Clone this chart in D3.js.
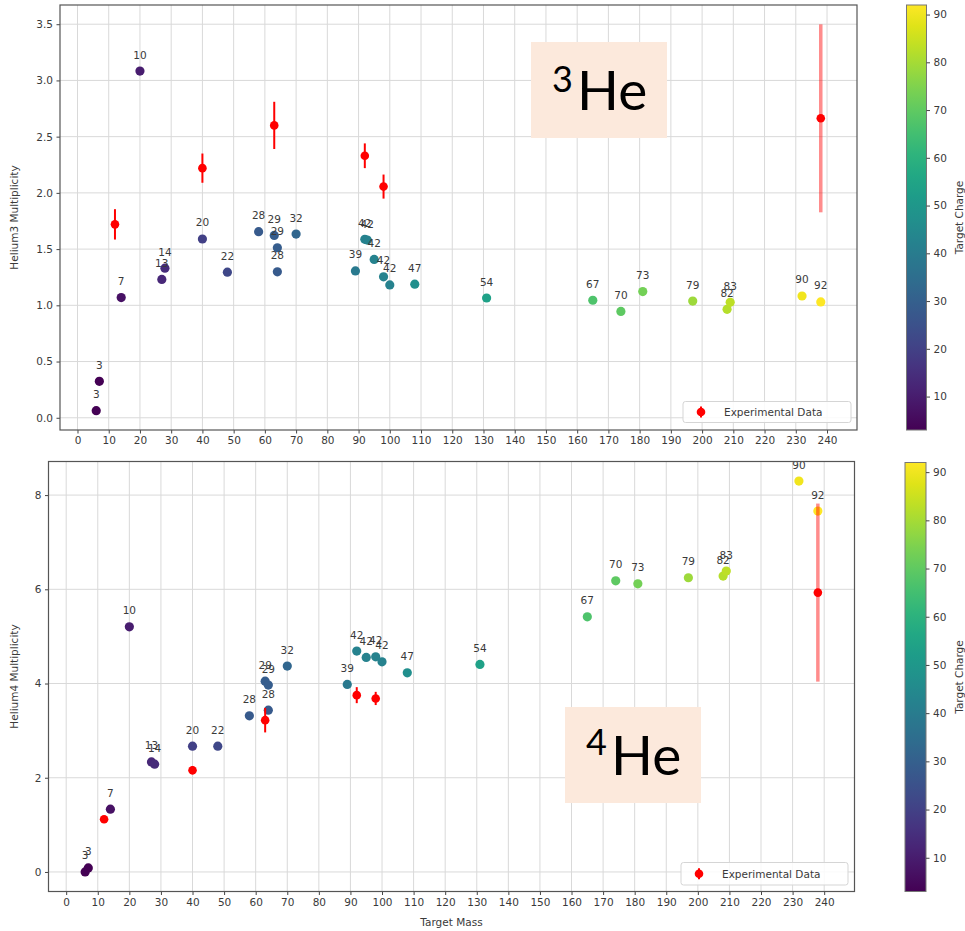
<!DOCTYPE html>
<html>
<head>
<meta charset="utf-8">
<script src="https://cdn.jsdelivr.net/npm/d3@7"></script>
<style>
  html, body { margin: 0; padding: 0; background: #fff; }
  svg { display: block; }
  text { font-family: "DejaVu Sans", sans-serif; }
</style>
</head>
<body>
<svg id="chart" width="965" height="931"></svg>
<script>
// ---- Helium-3 multiplicity by target ----
const mass3   = [6, 7, 14, 20, 27, 28, 40, 48, 58, 63, 64, 64, 70, 89, 92, 92.8, 95, 98, 100, 108, 131, 165, 174, 181, 197, 208, 209, 232, 238];
const charge3 = [3, 3, 7, 10, 13, 14, 20, 22, 28, 29, 29, 28, 32, 39, 42, 42, 42, 42, 42, 47, 54, 67, 70, 73, 79, 82, 83, 90, 92];
const mult3   = [0.063, 0.324, 1.069, 3.083, 1.23, 1.33, 1.59, 1.295, 1.655, 1.622, 1.512, 1.298, 1.634, 1.306, 1.587, 1.58, 1.408, 1.253, 1.181, 1.188, 1.065, 1.045, 0.946, 1.122, 1.038, 0.964, 1.027, 1.083, 1.03];

const expMass3 = [12, 40, 63, 92, 98, 238];
const expMult3 = [1.72, 2.22, 2.60, 2.33, 2.056, 2.663];
const expErr3  = [0.135, 0.13, 0.21, 0.11, 0.107, 0.836];

// ---- Helium-4 multiplicity by target ----
const mass4   = [6, 7, 14, 20, 27, 28, 40, 48, 58, 63, 64, 64, 70, 89, 92, 95, 98, 100, 108, 131, 165, 174, 181, 197, 208, 209, 232, 238];
const charge4 = [3, 3, 7, 10, 13, 14, 20, 22, 28, 29, 29, 28, 32, 39, 42, 42, 42, 42, 47, 54, 67, 70, 73, 79, 82, 83, 90, 92];
const mult4   = [0.0, 0.085, 1.332, 5.204, 2.336, 2.288, 2.67, 2.67, 3.314, 4.05, 3.966, 3.434, 4.37, 3.98, 4.688, 4.554, 4.567, 4.46, 4.227, 4.405, 5.416, 6.18, 6.117, 6.245, 6.28, 6.387, 8.298, 7.66];

const expMass4 = [12, 40, 63, 92, 98, 238];
const expMult4 = [1.119, 2.16, 3.222, 3.753, 3.683, 5.93];
const expErr4  = [0.04, 0.09, 0.26, 0.17, 0.14, 1.89];

// ---- Axis ticks ----
const massTicks   = d3.range(0, 241, 10);
const yTicks3     = [0, 0.5, 1.0, 1.5, 2.0, 2.5, 3.0, 3.5];
const yTicks4     = [0, 2, 4, 6, 8];
const chargeTicks = [10, 20, 30, 40, 50, 60, 70, 80, 90];
const chargeRange = [3, 92];

const svg = d3.select("#chart");
const color = d3.scaleSequential(d3.interpolateViridis).domain(chargeRange);
const TXT = "#3a3a3a";
const FS = 10.5;

// matplotlib-style autoscale: data extent padded by 5% on each side
function padded(lo, hi) {
  const m = (hi - lo) * 0.05;
  return [lo - m, hi + m];
}

function drawPanel(o) {
  const g = svg.append("g");
  const x = d3.scaleLinear().domain(padded(d3.min(o.mass), d3.max(o.mass))).range([o.left, o.right]);
  const yLo = Math.min(d3.min(o.mult), d3.min(o.expMult.map((v, i) => v - o.expErr[i])));
  const yHi = Math.max(d3.max(o.mult), d3.max(o.expMult.map((v, i) => v + o.expErr[i])));
  const y = d3.scaleLinear().domain(padded(yLo, yHi)).range([o.bottom, o.top]);

  // grid
  g.append("g").selectAll("line").data(massTicks).join("line")
    .attr("x1", d => x(d)).attr("x2", d => x(d))
    .attr("y1", o.top).attr("y2", o.bottom)
    .attr("stroke", "#d9d9d9").attr("stroke-width", 1);
  g.append("g").selectAll("line").data(o.yTicks).join("line")
    .attr("x1", o.left).attr("x2", o.right)
    .attr("y1", d => y(d)).attr("y2", d => y(d))
    .attr("stroke", "#d9d9d9").attr("stroke-width", 1);

  // axes
  const ax = g.append("g").attr("transform", `translate(0,${o.bottom})`)
    .call(d3.axisBottom(x).tickValues(massTicks).tickSize(3.5).tickPadding(3.5).tickFormat(d3.format("d")));
  const ay = g.append("g").attr("transform", `translate(${o.left},0)`)
    .call(d3.axisLeft(y).tickValues(o.yTicks).tickSize(3.5).tickPadding(3.5).tickFormat(o.yFormat));
  [ax, ay].forEach(a => {
    a.select(".domain").remove();
    a.selectAll("line").attr("stroke", "#444");
    a.selectAll("text").attr("fill", TXT).style("font-size", FS + "px").style("font-family", "DejaVu Sans");
  });

  // annotation box
  g.append("rect").attr("x", o.box[0]).attr("y", o.box[1])
    .attr("width", o.box[2] - o.box[0]).attr("height", o.box[3] - o.box[1])
    .attr("fill", "#fce9dc");
  g.append("text").attr("x", o.supX).attr("y", o.supY).text(o.sup)
    .style("font-family", "Lato, 'Open Sans', sans-serif").style("font-size", "36px").attr("fill", "#000");
  g.append("text").attr("x", o.heX).attr("y", o.heY).text("He")
    .style("font-family", "Lato, 'Open Sans', sans-serif").style("font-size", "55px").attr("fill", "#000");

  // scatter points coloured by target charge
  const pts = o.mass.map((m, i) => ({ m, v: o.mult[i], z: o.charge[i] }));
  g.append("g").selectAll("circle").data(pts).join("circle")
    .attr("cx", d => x(d.m)).attr("cy", d => y(d.v)).attr("r", 4.6)
    .attr("fill", d => color(d.z));
  g.append("g").selectAll("text").data(pts).join("text")
    .attr("x", d => x(d.m)).attr("y", d => y(d.v) - 12.5)
    .attr("text-anchor", "middle").attr("fill", TXT)
    .style("font-size", FS + "px").text(d => d.z);

  // experimental data with error bars
  const exp = o.expMass.map((m, i) => ({ m, v: o.expMult[i], e: o.expErr[i] }));
  g.append("g").selectAll("line").data(exp).join("line")
    .attr("x1", d => x(d.m)).attr("x2", d => x(d.m))
    .attr("y1", d => y(d.v - d.e)).attr("y2", d => y(d.v + d.e))
    .attr("stroke", "red")
    .attr("stroke-width", d => d.e > 0.5 ? 3.5 : 2)
    .attr("stroke-opacity", d => d.e > 0.5 ? 0.45 : 1);
  g.append("g").selectAll("circle").data(exp).join("circle")
    .attr("cx", d => x(d.m)).attr("cy", d => y(d.v)).attr("r", 4.3)
    .attr("fill", "red");

  // legend
  const L = o.legend;
  g.append("rect").attr("x", L[0]).attr("y", L[1]).attr("width", L[2] - L[0]).attr("height", L[3] - L[1])
    .attr("rx", 2.5).attr("fill", "#fff").attr("fill-opacity", 0.85).attr("stroke", "#d5d5d5");
  const ly = (L[1] + L[3]) / 2;
  g.append("line").attr("x1", L[0] + 18).attr("x2", L[0] + 18).attr("y1", ly - 5.5).attr("y2", ly + 5.5)
    .attr("stroke", "red").attr("stroke-width", 2);
  g.append("circle").attr("cx", L[0] + 18).attr("cy", ly).attr("r", 4.3).attr("fill", "red");
  g.append("text").attr("x", L[0] + 41).attr("y", ly + 3.8).attr("fill", TXT)
    .style("font-size", FS + "px").text("Experimental Data");

  // frame
  g.append("rect").attr("x", o.left).attr("y", o.top).attr("width", o.right - o.left).attr("height", o.bottom - o.top)
    .attr("fill", "none").attr("stroke", "#555").attr("stroke-width", 1.2);

  // y label
  g.append("text").attr("transform", `translate(${o.ylabX},${(o.top + o.bottom) / 2}) rotate(-90)`)
    .attr("text-anchor", "middle").attr("fill", TXT).style("font-size", FS + "px").text(o.ylabel);
  if (o.xlabel) {
    g.append("text").attr("x", (o.left + o.right) / 2).attr("y", o.bottom + 34)
      .attr("text-anchor", "middle").attr("fill", TXT).style("font-size", FS + "px").text(o.xlabel);
  }

  // colorbar
  const cb = o.cbar;
  const cy = d3.scaleLinear().domain(chargeRange).range([cb[3], cb[1]]);
  const gradId = "grad" + o.id;
  const grad = svg.append("defs").append("linearGradient").attr("id", gradId)
    .attr("x1", 0).attr("y1", 1).attr("x2", 0).attr("y2", 0);
  d3.range(0, 1.0001, 0.05).forEach(t => {
    grad.append("stop").attr("offset", t).attr("stop-color", d3.interpolateViridis(t));
  });
  g.append("rect").attr("x", cb[0]).attr("y", cb[1]).attr("width", cb[2] - cb[0]).attr("height", cb[3] - cb[1])
    .attr("fill", `url(#${gradId})`).attr("stroke", "#777").attr("stroke-width", 1);
  const ac = g.append("g").attr("transform", `translate(${cb[2]},0)`)
    .call(d3.axisRight(cy).tickValues(chargeTicks).tickSize(3.5).tickPadding(3.5));
  ac.select(".domain").remove();
  ac.selectAll("line").attr("stroke", "#444");
  ac.selectAll("text").attr("fill", TXT).style("font-size", FS + "px").style("font-family", "DejaVu Sans");
  g.append("text").attr("transform", `translate(962.5,${(cb[1] + cb[3]) / 2}) rotate(-90)`)
    .attr("text-anchor", "middle").attr("fill", TXT).style("font-size", FS + "px").text("Target Charge");
}

drawPanel({
  id: 3, mass: mass3, mult: mult3, charge: charge3,
  expMass: expMass3, expMult: expMult3, expErr: expErr3,
  left: 60, right: 857, top: 5, bottom: 430,
  yTicks: yTicks3, yFormat: d3.format(".1f"),
  ylabel: "Helium3 Multiplicity", ylabX: 18,
  box: [531, 42, 667, 138], sup: "3", supX: 552, supY: 92, heX: 577, heY: 110,
  legend: [683, 401.5, 851, 422.5],
  cbar: [906.5, 5, 926.5, 430]
});

drawPanel({
  id: 4, mass: mass4, mult: mult4, charge: charge4,
  expMass: expMass4, expMult: expMult4, expErr: expErr4,
  left: 48.5, right: 854.5, top: 461.5, bottom: 891.5,
  yTicks: yTicks4, yFormat: d3.format("d"),
  ylabel: "Helium4 Multiplicity", ylabX: 18, xlabel: "Target Mass",
  box: [565, 707, 701, 803], sup: "4", supX: 586, supY: 755, heX: 611, heY: 775,
  legend: [681, 862.5, 848, 885],
  cbar: [905, 462.5, 926, 891.5]
});
</script>
</body>
</html>
